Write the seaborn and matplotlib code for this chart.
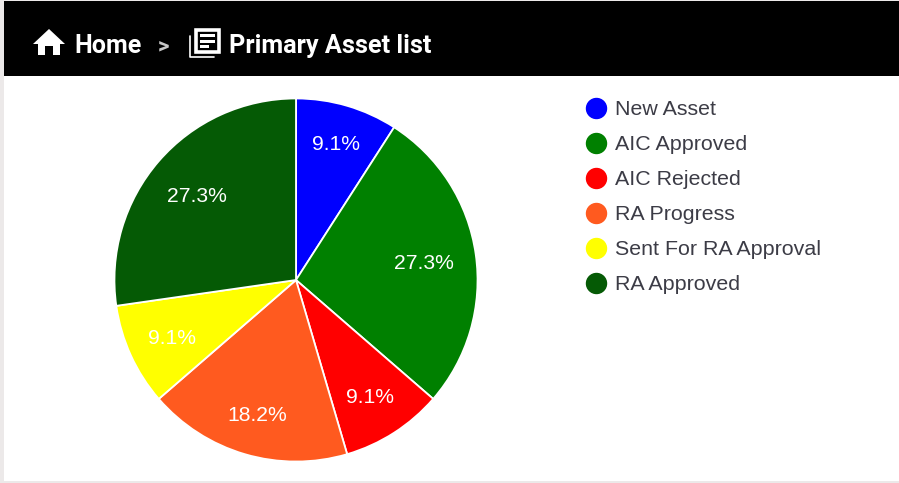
"""
Primary asset status pie, with the page header above it.
"""

import numpy as np
import matplotlib.pyplot as plt
from matplotlib.lines import Line2D
from matplotlib.patches import Polygon, Rectangle
import seaborn as sns

# data
labels = ['New Asset', 'AIC Approved', 'AIC Rejected', 'RA Progress', 'Sent For RA Approval', 'RA Approved']
counts = [1, 3, 1, 2, 1, 3]
colors = ['#0000ff', '#008000', '#ff0000', '#ff5a1f', '#ffff00', '#055a05']
home_text = 'Home'
page_text = 'Primary Asset list'

# how far out each percent label sits, as a share of the radius
label_dist = [0.79, 0.71, 0.755, 0.766, 0.75, 0.72]

sns.set_theme(style='white')
plt.rcParams['font.family'] = ['Roboto', 'DejaVu Sans']

fig = plt.figure(figsize=(8.99, 4.83), dpi=100, facecolor='#ece9e9')

# page layer in pixel coords
bg = fig.add_axes([0, 0, 1, 1])
bg.set_xlim(0, 899)
bg.set_ylim(483, 0)
bg.axis('off')
bg.add_patch(Rectangle((4, 1), 895, 480, color='white', lw=0))
bg.add_patch(Rectangle((4, 1), 895, 75, color='black', lw=0))

# house icon
bg.add_patch(Polygon([(33, 44), (49, 29), (65, 44), (60, 44), (60, 55), (53, 55), (53, 46), (45, 46),
                      (45, 55), (38, 55), (38, 44)], color='white', lw=0))
bg.text(74, 53, home_text, color='white', fontsize=18, fontweight='bold', va='baseline')
bg.text(158, 52, '>', color='#c8c8c8', fontsize=16, fontweight='bold', va='baseline')

# list icon
bg.add_patch(Rectangle((196, 29.5), 23, 22.5, fc='black', ec='white', lw=2.6))
bg.add_patch(Rectangle((200, 34), 15, 3, color='white', lw=0))
bg.add_patch(Rectangle((200, 39.5), 15, 3, color='white', lw=0))
bg.add_patch(Rectangle((200, 45), 9, 3, color='white', lw=0))
bg.plot([190, 190, 214], [36, 57, 57], color='white', lw=1.2)
bg.text(229, 53, page_text, color='white', fontsize=18.2, fontweight='bold', va='baseline')

# pie
ax = fig.add_axes([115 / 899, (483 - 461) / 483, 362 / 899, 362 / 483])
wedges, texts = ax.pie(counts, colors=colors, startangle=90, counterclock=False,
                       wedgeprops={'edgecolor': 'white', 'linewidth': 1.3})
ax.set_xlim(-0.997, 0.997)
ax.set_ylim(-0.997, 0.997)
for w, n, d in zip(wedges, counts, label_dist):
    mid = np.deg2rad((w.theta1 + w.theta2) / 2)
    ax.text(d * np.cos(mid), d * np.sin(mid), f'{100 * n / sum(counts):.1f}%', color='white', fontsize=15.2,
            family='Liberation Sans', ha='center', va='center_baseline')

# legend
handles = [Line2D([], [], ls='', marker='o', ms=14.4, mfc=c, mec=c) for c in colors]
bg.legend(handles, labels, loc='upper left', bbox_to_anchor=(567 / 899, 1 - 83 / 483), frameon=False,
          prop={'family': 'Liberation Sans', 'size': 15.4}, labelcolor='#3c3c46', handletextpad=0.33,
          labelspacing=0.75, handlelength=1.12, borderpad=0.3)

fig.savefig('out.png', dpi=100, facecolor=fig.get_facecolor())
